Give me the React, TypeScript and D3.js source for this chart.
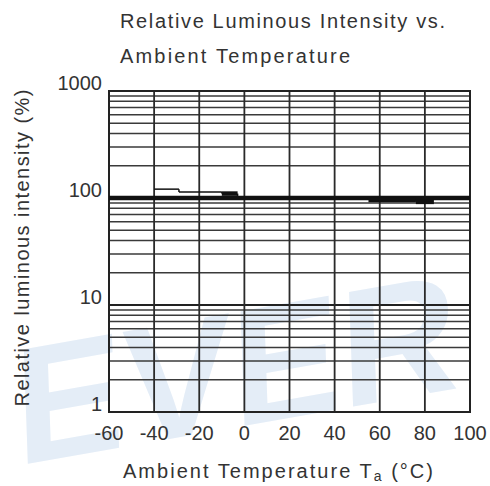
import React from "react";
import * as d3 from "d3";

const xTicks = [-60, -40, -20, 0, 20, 40, 60, 80, 100];
const yTickLabels = [1, 10, 100, 1000];
const refValue = 100;
// step curve: temperature (°C) and relative luminous intensity (%)
const tempC = [-40, -29, -10, -3, 55, 76, 84];
const relLum = [121, 114, 110, 100, 96, 92, 92];

const W = 490;
const H = 486;
const FONT = "'Liberation Sans', Arial, sans-serif";

export default function App() {
  const x = d3.scaleLinear().domain([-60, 100]).range([109, 470]);
  const y = d3.scaleLog().domain([1, 1000]).range([412, 91]);

  const minor: number[] = [];
  for (let p = 0; p < 3; p++) {
    for (let m = 2; m <= 9; m++) minor.push(m * Math.pow(10, p));
  }
  const majors = [10, 100];

  const segs = tempC.slice(0, -1).map((t, i) => ({
    x1: x(t),
    x2: x(tempC[i + 1]),
    y: y(relLum[i]),
    yNext: y(relLum[i + 1]),
    i,
  }));
  const thickIdx = new Set([2, 4, 5]);

  return (
    <svg
      width={W}
      height={H}
      style={{ position: "absolute", left: 0, top: 0, background: "#fff" }}
      fontFamily={FONT}
    >
      <g transform="rotate(-10 245 380)">
        <text
          x={290}
          y={425}
          fontSize={165}
          fontWeight="bold"
          fill="#e4edf7"
          textAnchor="middle"
          transform="skewX(-8)"
          aria-hidden="true"
        >
          EVER
        </text>
      </g>

      {/* title */}
      <text x={120} y={28} fontSize={20} fill="#333" textLength={325} lengthAdjust="spacing">
        Relative Luminous  Intensity vs.
      </text>
      <text x={120} y={63} fontSize={20} fill="#333" textLength={230} lengthAdjust="spacing">
        Ambient Temperature
      </text>

      {/* horizontal grid */}
      {minor.map((v) => (
        <line key={"m" + v} x1={x(-60)} x2={x(100)} y1={y(v)} y2={y(v)} stroke="#3a3a3a" strokeWidth={1.5} />
      ))}
      {majors.map((v) => (
        <line key={"M" + v} x1={x(-60)} x2={x(100)} y1={y(v)} y2={y(v)} stroke="#222" strokeWidth={1.8} />
      ))}
      {/* vertical grid */}
      {xTicks.map((t) => (
        <line key={"v" + t} x1={x(t)} x2={x(t)} y1={y(1000)} y2={y(1)} stroke="#2a2a2a" strokeWidth={1.8} />
      ))}
      <rect
        x={x(-60)}
        y={y(1000)}
        width={x(100) - x(-60)}
        height={y(1) - y(1000)}
        fill="none"
        stroke="#222"
        strokeWidth={2}
      />

      {/* reference line at 100 % */}
      <line x1={x(-60)} x2={x(100)} y1={y(refValue)} y2={y(refValue)} stroke="#111" strokeWidth={4.5} />

      {/* data step curve */}
      {segs.map((s) => (
        <g key={"s" + s.i}>
          <line
            x1={s.x1}
            x2={s.x2}
            y1={s.y}
            y2={s.y}
            stroke="#111"
            strokeWidth={thickIdx.has(s.i) ? 4.5 : 1.5}
          />
          <line x1={s.x2} x2={s.x2} y1={s.y} y2={s.yNext} stroke="#111" strokeWidth={1.5} />
        </g>
      ))}

      {/* y tick labels */}
      {yTickLabels.map((v) => (
        <text
          key={"yl" + v}
          x={102}
          y={y(v) - 6}
          fontSize={20}
          fill="#333"
          textAnchor="end"
          dominantBaseline="middle"
        >
          {v}
        </text>
      ))}
      {/* x tick labels */}
      {xTicks.map((t) => (
        <text key={"xl" + t} x={x(t)} y={440} fontSize={20} fill="#333" textAnchor="middle">
          {t}
        </text>
      ))}

      {/* axis titles */}
      <text x={123} y={478} fontSize={20} fill="#333" textLength={310} lengthAdjust="spacing">
        Ambient Temperature T<tspan fontSize={14} dy={3}>a</tspan>
        <tspan dy={-3}> (°C)</tspan>
      </text>
      <text
        transform="translate(29 248) rotate(-90)"
        fontSize={20}
        fill="#333"
        textAnchor="middle"
        textLength={317}
        lengthAdjust="spacing"
      >
        Relative luminous intensity (%)
      </text>
    </svg>
  );
}
